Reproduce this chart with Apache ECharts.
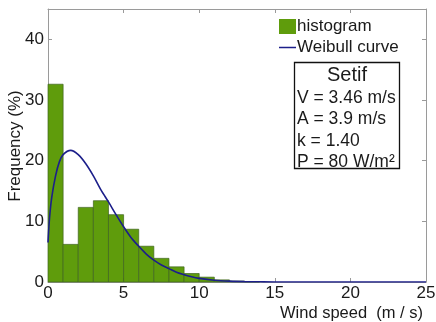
<!DOCTYPE html>
<html><head><meta charset="utf-8">
<script src="https://cdn.jsdelivr.net/npm/echarts@6/dist/echarts.min.js"></script>
<style>html,body{margin:0;padding:0;background:#fff}#c{width:436px;height:322px}</style>
</head><body><div id="c"></div>
<script>
// Histogram bins (m/s) and frequencies (%)
const binStart = [0,1,2,3,4,5,6,7,8,9,10,11,12,13];
const binFreq  = [32.6,6.2,12.3,13.4,11.1,8.7,5.9,3.9,2.5,1.4,0.8,0.35,0.15,0.05];
// Weibull curve points
const curveV = [0,0.1,0.25,0.5,0.75,1,1.5,2,2.5,3,3.5,4,4.5,5,5.5,6,6.5,7,7.5,8,8.5,9,9.5,10,11,12,13,14,15,20,25];
const curveF = [6.5,10.5,14,17.5,19.8,21,21.7,21,19.5,17.5,15.2,13.2,11.1,9.1,7.3,5.9,4.6,3.6,2.8,2.2,1.6,1.2,0.85,0.6,0.3,0.15,0.07,0.03,0,0,0];
const xTicks = [0,5,10,15,20,25];
const yTicks = [0,10,20,30,40];
const boxLines = ['V = 3.46 m/s','A = 3.9 m/s','k = 1.40','P = 80 W/m\u00b2'];
const boxTitle = 'Setif';

const FONT = '"Liberation Sans", Arial, sans-serif';
const chart = echarts.init(document.getElementById('c'));
const axisCol = '#9a9a9a';
const txt = '#1a1a1a';

const barData = binStart.map((s,i)=>[s, s+1, binFreq[i]]);
const curveData = curveV.map((v,i)=>[v, curveF[i]]);

chart.setOption({
  animation:false,
  grid:{left:48, right:10, top:9, bottom:40, containLabel:false, outerBoundsMode:'none'},
  xAxis:[{
    type:'value', min:0, max:25, interval:5, position:'bottom',
    axisLine:{onZero:false,lineStyle:{color:axisCol,width:1}},
    axisTick:{inside:true,length:4,lineStyle:{color:axisCol}},
    axisLabel:{color:txt,fontSize:17,fontFamily:FONT,margin:3},
    splitLine:{show:false}
  },{
    type:'value', min:0, max:25, interval:5, position:'top',
    axisLine:{show:true,onZero:false,lineStyle:{color:axisCol,width:1}},
    axisTick:{inside:true,length:4,lineStyle:{color:axisCol}},
    axisLabel:{show:false}, splitLine:{show:false}
  }],
  yAxis:[{
    type:'value', min:0, max:45, interval:10, position:'left',
    axisLine:{show:true,onZero:false,lineStyle:{color:axisCol,width:1}},
    axisTick:{show:true,inside:true,length:4,lineStyle:{color:axisCol}},
    axisLabel:{color:txt,fontSize:17,fontFamily:FONT,margin:4,
      formatter:v=>yTicks.indexOf(v)>=0?String(v):''},
    splitLine:{show:false}
  },{
    type:'value', min:0, max:45, interval:10, position:'right',
    axisLine:{show:true,onZero:false,lineStyle:{color:axisCol,width:1}},
    axisTick:{show:true,inside:true,length:4,lineStyle:{color:axisCol}},
    axisLabel:{show:false}, splitLine:{show:false}
  }],
  legend:{
    orient:'vertical', left:279, top:18, padding:0, itemWidth:17, itemHeight:15, itemGap:4,
    textStyle:{color:txt,fontSize:17,fontFamily:FONT,padding:[0,0,0,-4]},
    data:[{name:'histogram',icon:'rect'},{name:'Weibull curve',icon:'path://M0,0L34,0L34,3L0,3Z'}]
  },
  series:[{
    name:'histogram', type:'custom', xAxisIndex:0, yAxisIndex:0,
    itemStyle:{color:'#5f9c0c'},
    renderItem:function(params, api){
      const p0 = api.coord([api.value(0), api.value(2)]);
      const p1 = api.coord([api.value(1), 0]);
      return {type:'rect', shape:{x:p0[0], y:p0[1], width:p1[0]-p0[0], height:p1[1]-p0[1]},
        style:{fill:'#5f9c0c', stroke:'#3f6420', lineWidth:0.7}};
    },
    encode:{x:[0,1], y:2},
    data:barData, z:2
  },{
    name:'Weibull curve', type:'line', xAxisIndex:0, yAxisIndex:0,
    data:curveData, symbol:'none', smooth:0.3,
    lineStyle:{color:'#1c1f8a', width:1.6}, itemStyle:{color:'#1c1f8a'}, z:3
  }],
  graphic:[
    {type:'text', x:15, y:146, rotation:Math.PI/2, style:{text:'Frequency (%)', fill:txt, font:'17px '+FONT, align:'center', verticalAlign:'middle'}},
    {type:'text', right:13, top:305, style:{text:'Wind speed  (m / s)', fill:txt, font:'16.5px '+FONT}},
    {type:'rect', shape:{x:294.5, y:62.5, width:105, height:106}, style:{fill:'#fff', stroke:'#111', lineWidth:1.3}, z:10},
    {type:'text', x:347, y:75, style:{text:boxTitle, fill:txt, font:'20px '+FONT, align:'center', verticalAlign:'middle'}, z:11},
    ...boxLines.map((t,i)=>({type:'text', x:297, y:98+i*21.5, style:{text:t, fill:txt, font:'17.5px '+FONT, verticalAlign:'middle'}, z:11}))
  ]
});
</script></body></html>
